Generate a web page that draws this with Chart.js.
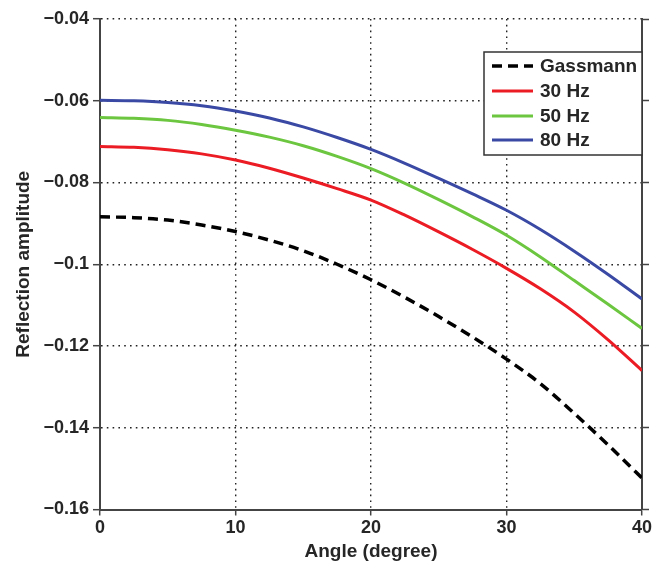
<!DOCTYPE html>
<html>
<head>
<meta charset="utf-8">
<script src="https://cdn.jsdelivr.net/npm/chart.js@4.4.1/dist/chart.umd.min.js"></script>
<style>
  html, body { margin: 0; padding: 0; background: #fff; }
  #wrap { width: 665px; height: 564px; }
</style>
</head>
<body>
<div id="wrap"><canvas id="chart" width="665" height="564"></canvas></div>
<script>
// angle in degrees
const angles = [0, 2.5, 5, 7.5, 10, 12.5, 15, 17.5, 20, 22.5, 25, 27.5, 30, 32.5, 35, 37.5, 40];

const gassmann = [-0.0884, -0.0886, -0.0892, -0.0904, -0.0920, -0.0941, -0.0967, -0.1000, -0.1038,
                  -0.1081, -0.1128, -0.1178, -0.1232, -0.1292, -0.1365, -0.1442, -0.1523];
const hz30 = [-0.0712, -0.0714, -0.0720, -0.0730, -0.0745, -0.0765, -0.0789, -0.0815, -0.0843,
              -0.0880, -0.0921, -0.0964, -0.1010, -0.1060, -0.1117, -0.1185, -0.1260];
const hz50 = [-0.0641, -0.0643, -0.0648, -0.0658, -0.0672, -0.0689, -0.0710, -0.0736, -0.0766,
              -0.0802, -0.0842, -0.0884, -0.0929, -0.0982, -0.1040, -0.1098, -0.1157];
const hz80 = [-0.0599, -0.0600, -0.0604, -0.0612, -0.0625, -0.0642, -0.0664, -0.0690, -0.0719,
              -0.0753, -0.0790, -0.0828, -0.0868, -0.0915, -0.0968, -0.1025, -0.1085];

const seriesNames = ['Gassmann', '30 Hz', '50 Hz', '80 Hz'];
const xTicks = [0, 10, 20, 30, 40];
const yTicks = [-0.16, -0.14, -0.12, -0.1, -0.08, -0.06, -0.04];
const yTickLabels = ['\u22120.16', '\u22120.14', '\u22120.12', '\u22120.1', '\u22120.08', '\u22120.06', '\u22120.04'];

const FONT = "'Liberation Sans', Arial, Helvetica, sans-serif";
const AXIS = '#444';
const GRID = '#222';
const TEXT = '#262626';

function toPoints(values) {
    return angles.map((a, i) => ({ x: a, y: values[i] }));
}

function yLabel(value) {
    const i = yTicks.findIndex(t => Math.abs(t - value) < 1e-6);
    return i >= 0 ? yTickLabels[i] : '';
}

// legend box drawn inside the plot, top right
const boxLegend = {
    id: 'boxLegend',
    afterDraw(chart) {
        const ctx = chart.ctx;
        const area = chart.chartArea;
        const right = area.right;
        const left = 484;
        const top = 52;
        const bottom = 155;
        ctx.save();
        ctx.fillStyle = '#fff';
        ctx.fillRect(left, top, right - left, bottom - top);
        ctx.strokeStyle = '#333';
        ctx.lineWidth = 1.5;
        ctx.strokeRect(left, top, right - left, bottom - top);

        const rows = [66, 91, 116, 140];
        ctx.font = 'bold 19px ' + FONT;
        ctx.textBaseline = 'middle';
        chart.data.datasets.forEach((ds, i) => {
            const y = rows[i];
            ctx.beginPath();
            ctx.setLineDash(ds.borderDash || []);
            ctx.strokeStyle = ds.borderColor;
            ctx.lineWidth = ds.borderWidth;
            ctx.moveTo(492, y);
            ctx.lineTo(533, y);
            ctx.stroke();
            ctx.setLineDash([]);
            ctx.fillStyle = TEXT;
            ctx.fillText(ds.label, 540, y + 1);
        });
        ctx.restore();
    }
};

const dottedGrid = {
    color: GRID,
    lineWidth: 1.4,
    drawTicks: true,
    tickColor: AXIS,
    tickWidth: 1.5,
    tickBorderDash: [],
};

const ctx = document.getElementById('chart').getContext('2d');
new Chart(ctx, {
    type: 'line',
    data: {
        datasets: [
            {
                label: seriesNames[0],
                data: toPoints(gassmann),
                borderColor: '#000',
                borderWidth: 3.5,
                borderDash: [10, 6],
            },
            {
                label: seriesNames[1],
                data: toPoints(hz30),
                borderColor: '#ec1c24',
                borderWidth: 3,
            },
            {
                label: seriesNames[2],
                data: toPoints(hz50),
                borderColor: '#6cc63f',
                borderWidth: 3,
            },
            {
                label: seriesNames[3],
                data: toPoints(hz80),
                borderColor: '#3a49a4',
                borderWidth: 3,
            },
        ]
    },
    options: {
        responsive: false,
        animation: false,
        layout: { padding: { top: 19, left: 0, right: 0, bottom: 0 } },
        elements: {
            point: { radius: 0 },
            line: { cubicInterpolationMode: 'monotone', fill: false },
        },
        plugins: {
            legend: { display: false },
            tooltip: { enabled: false },
        },
        scales: {
            x: {
                type: 'linear',
                min: 0,
                max: 40,
                afterBuildTicks: axis => { axis.ticks = xTicks.map(v => ({ value: v })); },
                afterFit: axis => { axis.height = 54.5; },
                border: { display: true, color: AXIS, width: 2, dash: [1.6, 4.2] },
                grid: Object.assign({}, dottedGrid, { tickLength: 6 }),
                ticks: {
                    color: TEXT,
                    font: { family: FONT, size: 18, weight: 'bold' },
                    padding: 2,
                    maxRotation: 0,
                },
                title: {
                    display: true,
                    text: 'Angle (degree)',
                    color: TEXT,
                    font: { family: FONT, size: 19, weight: 'bold' },
                    padding: { top: 0, bottom: 1 },
                },
            },
            y: {
                type: 'linear',
                position: 'left',
                min: -0.16,
                max: -0.04,
                afterBuildTicks: axis => { axis.ticks = yTicks.map(v => ({ value: v })); },
                afterFit: axis => { axis.width = 100; },
                border: { display: true, color: AXIS, width: 2, dash: [1.6, 4.2] },
                grid: Object.assign({}, dottedGrid, { tickLength: 7 }),
                ticks: {
                    color: TEXT,
                    font: { family: FONT, size: 18, weight: 'bold' },
                    padding: 4,
                    callback: v => yLabel(v),
                },
                title: {
                    display: true,
                    text: 'Reflection amplitude',
                    color: TEXT,
                    font: { family: FONT, size: 19, weight: 'bold' },
                    padding: { top: 12, bottom: 0 },
                },
            },
            yRight: {
                type: 'linear',
                position: 'right',
                min: -0.16,
                max: -0.04,
                afterBuildTicks: axis => { axis.ticks = yTicks.map(v => ({ value: v })); },
                afterFit: axis => { axis.width = 23; },
                border: { display: true, color: AXIS, width: 2 },
                grid: {
                    drawOnChartArea: false,
                    drawTicks: true,
                    tickLength: 7,
                    tickColor: AXIS,
                    tickWidth: 1.5,
                },
                ticks: { display: false },
            },
        }
    },
    plugins: [boxLegend]
});
</script>
</body>
</html>
